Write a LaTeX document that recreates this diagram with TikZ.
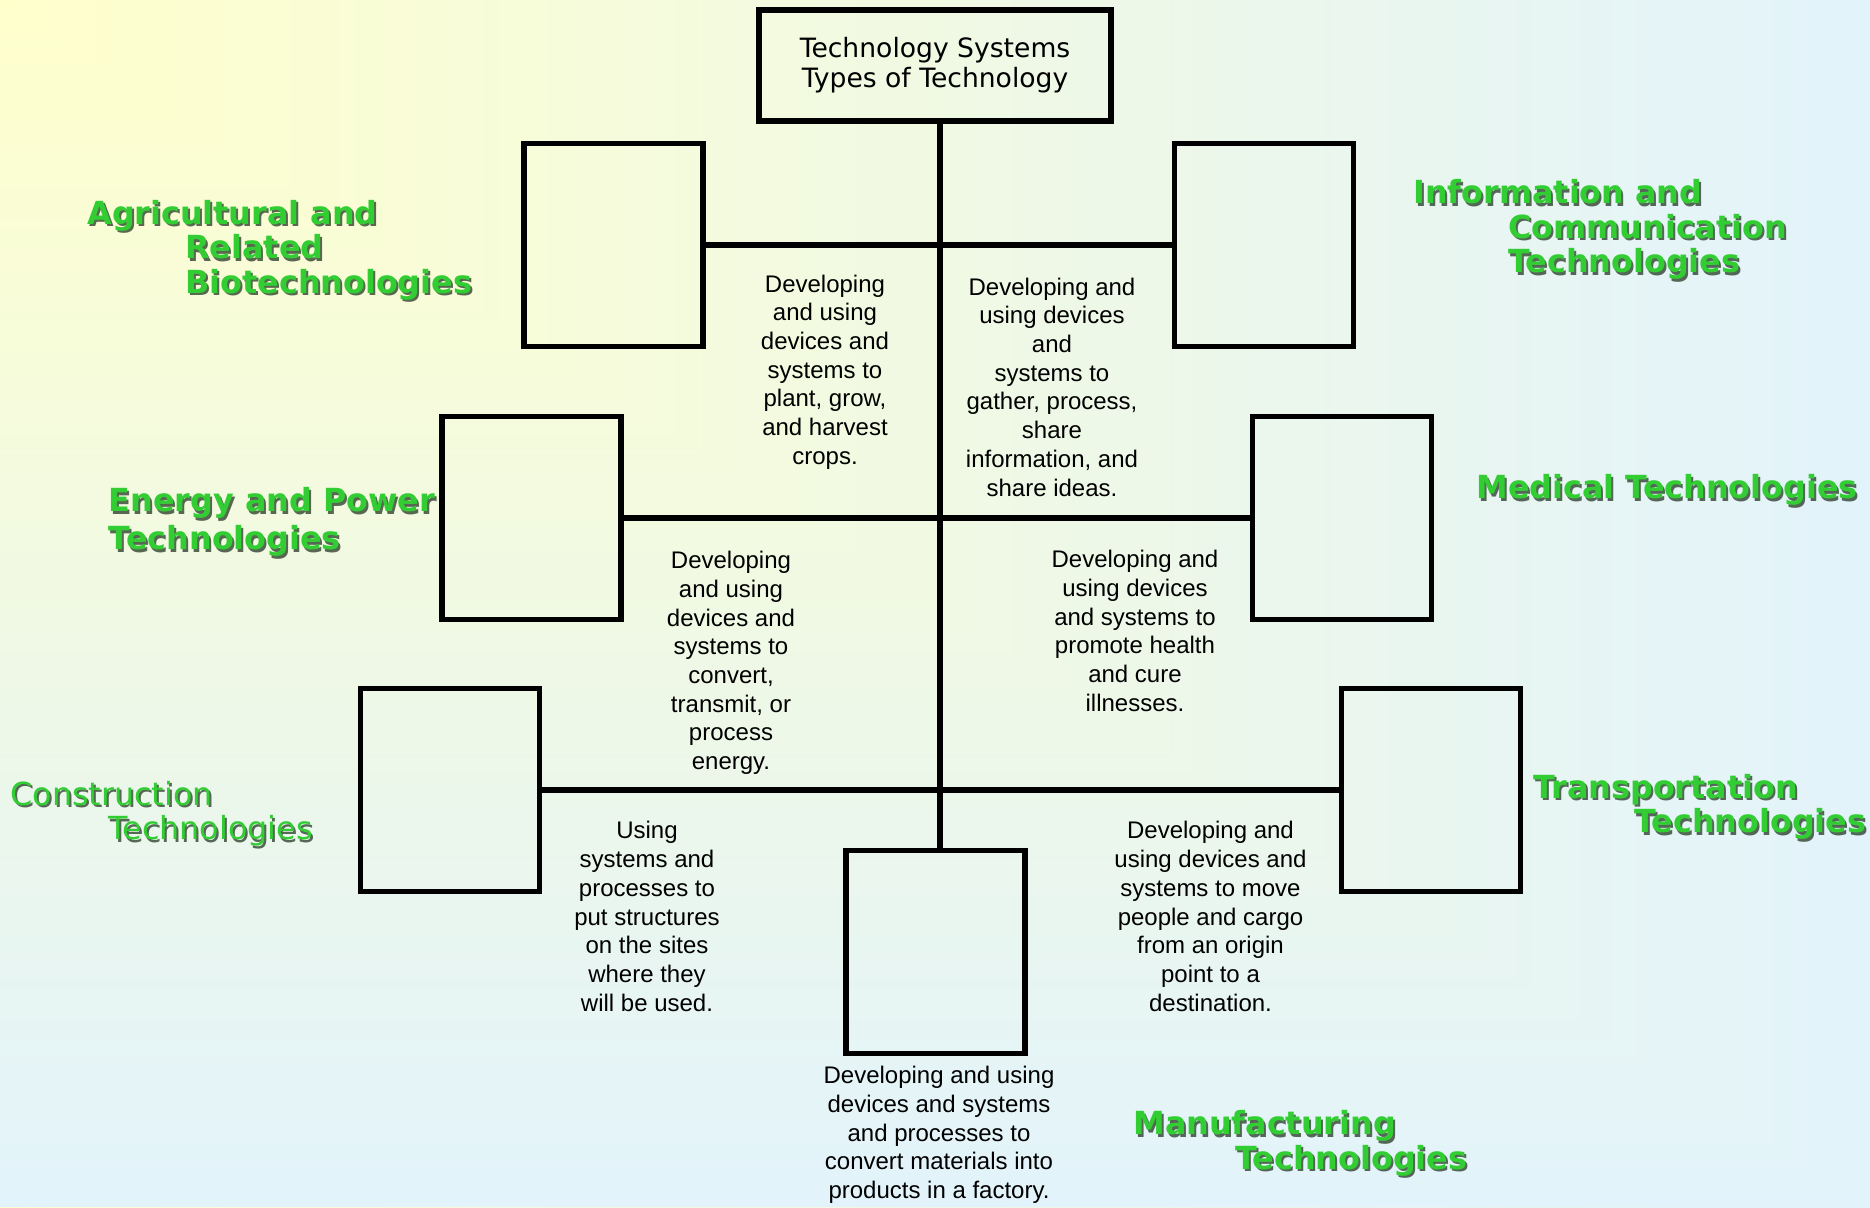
\documentclass[tikz,border=0pt]{standalone}
\usepackage{fontspec}
\setmainfont{Liberation Sans}
\newfontfamily\verd{DejaVu Sans}
\definecolor{bgA}{RGB}{255,255,204}
\definecolor{bgB}{RGB}{226,243,251}
\definecolor{lblgreen}{RGB}{50,205,50}
\definecolor{lblshadow}{RGB}{35,55,35}
\newcommand\greenlabel[5][]{%
  \node[gshadow,#1] (#2-sh) at (#3+2,#4+5.5) {#5};
  \node[glabel,#1] (#2) at (#3,#4+3) {#5};}
\begin{document}
\begin{tikzpicture}[x=0.5pt,y=-0.5pt,
  box/.style={draw=black, line width=2.8pt, minimum width=89.5pt, minimum height=101.5pt, inner sep=0pt},
  link/.style={draw=black, line width=2.7pt},
  desc/.style={align=center, inner sep=0pt, font=\fontsize{12pt}{14.35pt}\selectfont, text=black},
  glabel/.style={align=left, anchor=west, inner sep=0pt, font=\verd\bfseries\fontsize{15.9pt}{17.25pt}\selectfont, text=lblgreen},
  gshadow/.style={glabel, text=lblshadow, text opacity=0.75},
  regular/.style={font=\verd\fontsize{15.9pt}{17.25pt}\selectfont}
]
% background: corner gradient
\shade[left color=bgA, right color=bgB] (0,0) rectangle (1870,1207);
\begin{scope}
  \clip (0,0) -- (0,1207) -- (1870,1207) -- cycle;
  \shade[top color=bgA, bottom color=bgB] (0,0) rectangle (1870,1207);
\end{scope}
\useasboundingbox (0,0) rectangle (1870,1207);

% title
\node[box, minimum width=176pt, minimum height=55.5pt, line width=3pt, align=center,
      font=\verd\fontsize{13.3pt}{15pt}\selectfont] (title) at (935,65.5)
      {Technology Systems\\Types of Technology};

% empty boxes
\node[box] (agri) at (613.5,245) {};
\node[box] (info) at (1264,245) {};
\node[box] (energy) at (531.5,518) {};
\node[box] (medical) at (1342,518) {};
\node[box] (constr) at (450,790) {};
\node[box] (transp) at (1431,790) {};
\node[box] (manuf) at (935.5,952) {};

% connectors
\coordinate (trunk) at (940,0);
\draw[link] (title.south -| trunk) -- (manuf.north -| trunk);
\draw[link] (agri.east) -- (info.west);
\draw[link] (energy.east) -- (medical.west);
\draw[link] (constr.east) -- (transp.west);

% descriptions
\node[desc] (agritxt) at (825,372) {Developing\\and using\\devices and\\systems to\\plant, grow,\\and harvest\\crops.};
\node[desc] (infotxt) at (1052,387) {Developing and\\using devices\\and\\systems to\\gather, process,\\share\\information, and\\share ideas.};
\node[desc] (energytxt) at (731,663) {Developing\\and using\\devices and\\systems to\\convert,\\transmit, or\\process\\energy.};
\node[desc] (medicaltxt) at (1135,631) {Developing and\\using devices\\and systems to\\promote health\\and cure\\illnesses.};
\node[desc] (constrtxt) at (647,916.5) {Using\\systems and\\processes to\\put structures\\on the sites\\where they\\will be used.};
\node[desc] (transptxt) at (1210.5,916.5) {Developing and\\using devices and\\systems to move\\people and cargo\\from an origin\\point to a\\destination.};
\node[desc] (manuftxt) at (939,1135) {Developing and using\\devices and systems\\and processes to\\convert materials into\\products in a factory.};

% green labels
\greenlabel{agrilbl}{87}{247}{Agricultural and\\\hspace*{49pt}Related\\\hspace*{49pt}Biotechnologies}
\greenlabel{infolbl}{1413}{226.5}{Information and\\\hspace*{47.5pt}Communication\\\hspace*{47.5pt}Technologies}
\greenlabel[font=\verd\bfseries\fontsize{15.9pt}{19pt}\selectfont]{energylbl}{108.5}{519}{Energy and Power\\Technologies}
\greenlabel{medicallbl}{1476}{487}{Medical Technologies}
\greenlabel[regular]{constrlbl}{10}{810.5}{Construction\\\hspace*{49pt}Technologies}
\greenlabel{transplbl}{1533}{804}{Transportation\\\hspace*{50.5pt}Technologies}
\greenlabel{manuflbl}{1133}{1140.5}{Manufacturing\\\hspace*{51pt}Technologies}
\end{tikzpicture}
\end{document}
